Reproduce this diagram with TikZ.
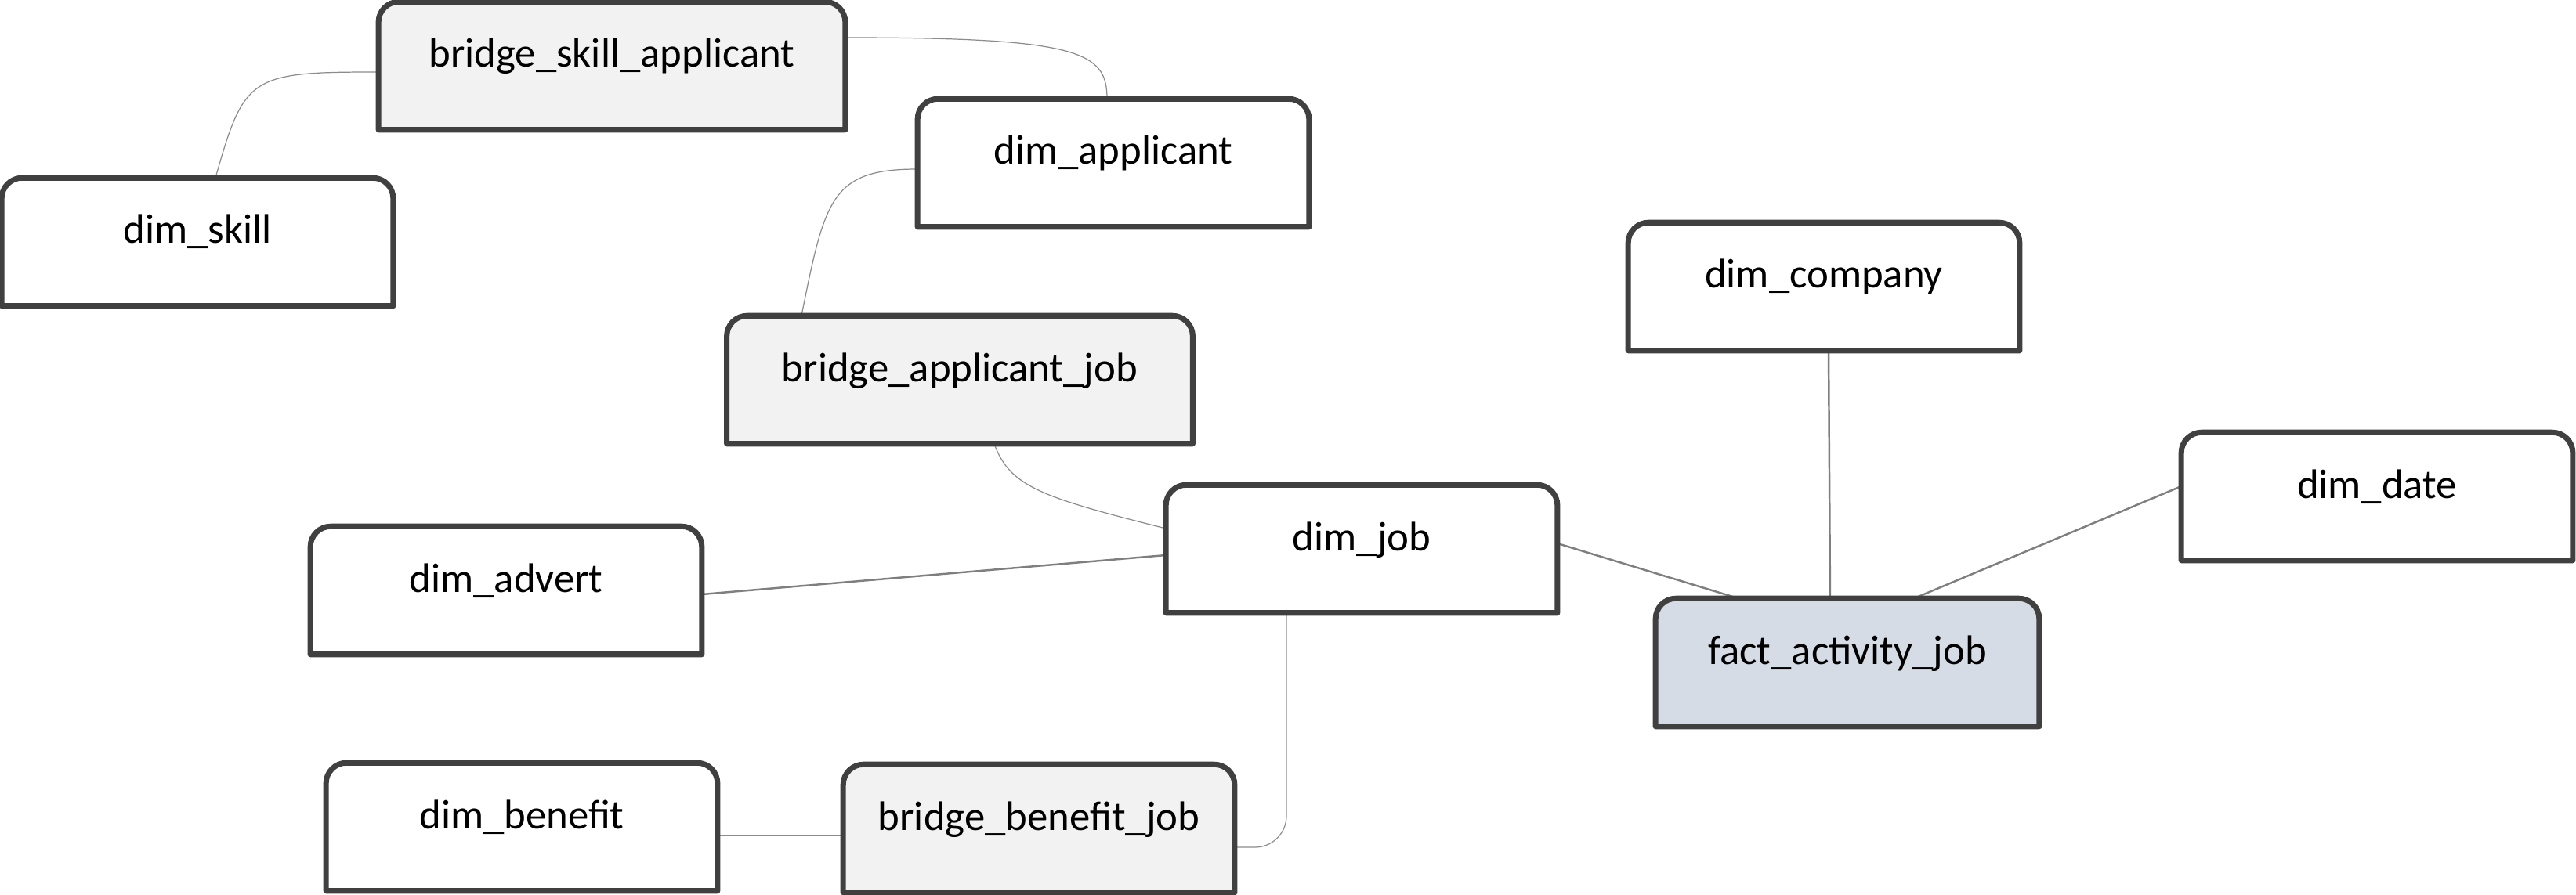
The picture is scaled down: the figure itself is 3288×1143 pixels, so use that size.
\documentclass[tikz,border=0pt]{standalone}
\usepackage{fontspec}
\setmainfont{Carlito}
\usetikzlibrary{calc,backgrounds}

\definecolor{boxline}{HTML}{404040}
\definecolor{bridgefill}{HTML}{F2F2F2}
\definecolor{factfill}{HTML}{D6DCE5}
\definecolor{linkgray}{HTML}{7F7F7F}
\definecolor{linklight}{HTML}{8C8C8C}

\begin{document}
\begin{tikzpicture}[x=0.01cm, y=-0.01cm, font=\fontsize{15}{18}\selectfont]
 % --- 各パーツのスタイルを定義 ---
 \tikzset{
    tbl/.style={
        rectangle,
        inner sep=0pt,
        minimum width=4.98cm,
        minimum height=1.62cm,
        text height=0.3cm,
        text depth=0.26cm
    },
    outline/.style={
        draw=boxline,
        line width=2pt,
        line join=round
    },
    link/.style={
        draw=linkgray,
        line width=0.7pt
    },
    thinlink/.style={
        draw=linklight,
        line width=0.35pt
    }
 }

 \useasboundingbox (0,0) rectangle (3288,1143);

 % --- テーブルを配置 ---
 % ブリッジ
 \node[tbl, minimum width=5.94cm] (BridgeSkillApplicant) at (781,84) {bridge\_skill\_applicant};
 \node[tbl, minimum width=5.93cm] (BridgeApplicantJob) at (1225,485) {bridge\_applicant\_job};
 \node[tbl] (BridgeBenefitJob) at (1326,1058) {bridge\_benefit\_job};

 % ディメンション
 \node[tbl] (DimSkill) at (252,309) {dim\_skill};
 \node[tbl] (DimApplicant) at (1421,208) {dim\_applicant};
 \node[tbl] (DimJob) at (1738,701) {dim\_job};
 \node[tbl] (DimAdvert) at (646,754) {dim\_advert};
 \node[tbl] (DimBenefit) at (666,1056) {dim\_benefit};
 \node[tbl] (DimCompany) at (2328,366) {dim\_company};
 \node[tbl] (DimDate) at (3034,634) {dim\_date};

 % ファクト
 \node[tbl, minimum width=4.88cm] (FactActivityJob) at (2358,846) {fact\_activity\_job};

 \begin{scope}[on background layer]
 % --- 結合線を描画 ---
 \draw[thinlink] ($(DimSkill.north)+(23,0)$) .. controls +(37,-131) and +(-164,0) .. ($(BridgeSkillApplicant.west)+(0,8)$);
 \draw[thinlink] ($(BridgeSkillApplicant.east)+(0,-36)$) .. controls +(300,0) and +(0,-60) .. ($(DimApplicant.north)+(-8,0)$);
 \draw[thinlink] ($(DimApplicant.west)+(0,8)$) .. controls +(-110,0) and +(30,-150) .. ($(BridgeApplicantJob.north)+(-202,0)$);
 \draw[thinlink] ($(BridgeApplicantJob.south)+(44,0)$) .. controls +(20,55) and +(-159,-40) .. ($(DimJob.west)+(0,-26)$);
 \draw[thinlink, rounded corners=0.4cm] ($(DimJob.south)+(-96,0)$) |- ($(BridgeBenefitJob.east)+(0,24)$);
 \draw[thinlink] ($(DimBenefit.east)+(0,11)$) -- ($(BridgeBenefitJob.west)+(0,9)$);
 \draw[link] ($(DimAdvert.east)+(0,5)$) -- ($(DimJob.west)+(0,8)$);

 % ファクトへの結合
 \draw[link] ($(DimJob.east)+(0,-7)$) -- ($(FactActivityJob.north)+(-139,0)$);
 \draw[link] ($(DimCompany.south)+(6,0)$) -- ($(FactActivityJob.north)+(-22,0)$);
 \draw[link] ($(DimDate.west)+(0,-13)$) -- ($(FactActivityJob.north)+(85,0)$);

 % --- 枠 (上の角だけ丸い) ---
 \foreach \n/\c in {BridgeSkillApplicant/bridgefill, BridgeApplicantJob/bridgefill,
    BridgeBenefitJob/bridgefill, DimSkill/white, DimApplicant/white, DimJob/white,
    DimAdvert/white, DimBenefit/white, DimCompany/white, DimDate/white,
    FactActivityJob/factfill}{
    \filldraw[outline, fill=\c] (\n.south west) [rounded corners=0.26cm] -- (\n.north west)
       -- (\n.north east) [sharp corners] -- (\n.south east) -- cycle;
 }
 \end{scope}
\end{tikzpicture}
\end{document}
